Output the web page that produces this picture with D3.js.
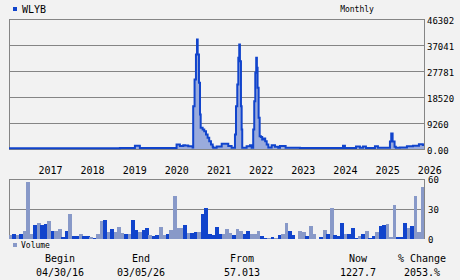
<!DOCTYPE html>
<html><head><meta charset="utf-8">
<script src="https://cdn.jsdelivr.net/npm/d3@7"></script>
<style>
html,body{margin:0;padding:0;background:#f2f2f2;}
svg{display:block;}
text{font-family:"DejaVu Sans Mono",monospace;fill:#000;}
</style></head>
<body>
<svg id="c" width="460" height="280"></svg>
<script>
const symbol = "WLYB";
const period = "Monthly";
const priceDates = ["2016-04-30","2017-07-15","2018-12-17","2019-04-26","2019-06-08","2020-04-21","2020-05-20","2020-06-18","2020-07-03","2020-07-31","2020-09-07","2020-09-12","2020-09-24","2020-10-06","2020-10-15","2020-10-21","2020-11-01","2020-11-10","2020-11-16","2020-12-03","2020-12-17","2021-01-01","2021-01-15","2021-01-29","2021-02-13","2021-02-28","2021-03-05","2021-04-03","2021-05-17","2021-07-13","2021-08-11","2021-09-09","2021-09-18","2021-09-29","2021-10-08","2021-10-16","2021-10-22","2021-10-31","2021-11-06","2021-11-11","2021-12-19","2022-01-17","2022-02-01","2022-02-14","2022-02-23","2022-03-04","2022-03-12","2022-03-18","2022-03-24","2022-04-02","2022-04-11","2022-04-22","2022-05-03","2022-05-18","2022-05-29","2022-06-11","2022-06-25","2022-07-24","2022-08-22","2022-09-19","2022-10-04","2022-11-22","2023-03-26","2024-04-02","2024-04-19","2024-07-24","2024-08-27","2024-09-22","2024-10-18","2025-01-04","2025-01-30","2025-05-14","2025-05-25","2025-06-06","2025-06-23","2025-07-04","2025-08-08","2025-10-08","2025-11-29","2026-01-20","2026-02-23","2026-03-05"];
const priceValues = [57,120,150,1000,200,1400,900,1200,1100,830,350,15070,24580,33480,38830,33480,23400,12110,7370,6770,6160,5000,3800,2600,1420,600,300,700,1700,900,300,4990,15070,22800,32300,37040,31100,15070,6770,300,800,1200,300,6770,16850,26960,32300,28750,21620,10930,4380,4100,3200,3600,2600,1420,400,1200,600,300,900,300,150,1000,200,700,300,700,200,800,250,2500,5300,2500,600,250,400,800,1000,1500,1227.7,1227.7];
const priceTicks = [0,9260,18520,27781,37041,46302];
const priceTickLabels = ["0.00","9260","18520","27781","37041","46302"];
const yearLabels = [2017,2018,2019,2020,2021,2022,2023,2024,2025,2026];
const volumes = [3.7,4.7,3.7,4.7,7.7,57,4.7,13.7,15.7,13.7,14.7,17.7,7.7,7.7,9.7,1.7,7.7,24.7,2.7,2.7,4.7,2.7,2.7,1.7,0.7,4.7,17.7,18.7,6.7,9.7,6.7,11.7,5.7,4.7,4.7,18.7,8.7,6.7,8.7,10.7,3.7,2.7,3.7,11.7,3.7,4.7,8.7,42.7,10.7,10.7,13.7,5.7,5.7,6.7,6.7,24.7,30.7,4.7,3.7,11.7,4.7,4.7,9.7,5.7,3.7,9.7,7.7,4.7,7.7,4.7,4.7,7.7,2.7,1,0.7,1.7,0.7,3.7,4.7,15.7,7.7,4.5,0.5,7.6,6.6,3.4,12.8,5.5,0.5,2.4,8.6,5.5,30.7,4.5,3.4,15.9,5.5,5.5,10.7,1.4,3.4,5.5,7.6,1.4,3.4,6.6,12.8,13.8,14.8,2.4,34.5,2.4,2.4,15.9,10.7,12.8,42.8,6.6,52];
const upMonths = [0,1,0,1,0,0,0,1,0,1,1,0,1,0,0,1,1,0,1,1,0,1,1,0,1,0,0,1,0,1,0,0,0,1,0,1,1,0,1,1,0,1,1,0,0,1,0,0,0,0,1,0,1,1,0,1,1,1,1,1,1,0,0,0,1,0,0,1,1,0,0,0,1,1,0,1,0,1,0,0,1,1,1,0,0,1,0,0,1,1,0,1,0,1,1,1,0,1,1,1,0,1,0,1,1,0,1,1,0,0,0,1,1,1,0,1,0,0,0];
const volTicks = [0,30,60];
const statHeads = ["Begin","End","From","Now","% Change"];
const statVals = ["04/30/16","03/05/26","57.013","1227.7","2053.%"];

const DARK = "#1144cc", LIGHT = "#8899c8", FILL = "#9aabdc", GRID = "#858585";
const svg = d3.select("#c");
const parse = d3.timeParse("%Y-%m-%d");
const L = 9, R = 424;

const x = d3.scaleTime().domain([parse("2016-04-30"), parse("2026-03-05")]).range([L, R]);
const y = d3.scaleLinear().domain([0, 46302]).range([149, 19]);

// main gridlines
svg.append("g").selectAll("line").data(priceTicks).join("line")
  .attr("x1", L).attr("x2", R).attr("y1", d => Math.round(y(d)) + 0.5).attr("y2", d => Math.round(y(d)) + 0.5)
  .attr("stroke", GRID).attr("stroke-width", 1);
svg.append("line").attr("x1", L + 0.5).attr("x2", L + 0.5).attr("y1", 19).attr("y2", 150).attr("stroke", GRID);
svg.append("line").attr("x1", R + 0.5).attr("x2", R + 0.5).attr("y1", 19).attr("y2", 150).attr("stroke", GRID);

const pts = priceDates.map((d, i) => ({ d: parse(d), v: priceValues[i] }));
svg.append("path").datum(pts)
  .attr("d", d3.area().x(p => x(p.d)).y0(y(0)).y1(p => y(p.v)).curve(d3.curveStepAfter))
  .attr("fill", FILL);
svg.append("path").datum(pts)
  .attr("d", d3.line().x(p => x(p.d)).y(p => y(p.v) - 0.5).curve(d3.curveStepAfter))
  .attr("fill", "none").attr("stroke", DARK).attr("stroke-width", 2);

// y labels main
svg.append("g").selectAll("text").data(priceTicks).join("text")
  .attr("x", 427).attr("y", d => y(d) + 5).attr("font-size", 9).text((d, i) => priceTickLabels[i]);

// year labels
svg.append("g").selectAll("text").data(yearLabels).join("text")
  .attr("x", d => x(new Date(d, 0, 1)) + 1).attr("y", 174).attr("font-size", 10).text(d => d);

// titles
svg.append("rect").attr("x", 13).attr("y", 7).attr("width", 4).attr("height", 4).attr("fill", DARK);
svg.append("text").attr("x", 22).attr("y", 13).attr("font-size", 10).text(symbol);
svg.append("text").attr("x", 357).attr("y", 12).attr("font-size", 8).attr("text-anchor", "middle").text(period);

// volume
const months = d3.timeMonth.range(new Date(2016, 4, 1), new Date(2026, 3, 1));
const xb = d3.scaleBand().domain(months.map((m, i) => i)).range([L, R]).padding(0);
const yv = d3.scaleLinear().domain([0, 60]).range([239, 179]);
svg.append("g").selectAll("line").data(volTicks.slice(1)).join("line")
  .attr("x1", L).attr("x2", R).attr("y1", d => Math.round(yv(d)) + 0.5).attr("y2", d => Math.round(yv(d)) + 0.5)
  .attr("stroke", GRID);
svg.append("line").attr("x1", L + 0.5).attr("x2", L + 0.5).attr("y1", 179).attr("y2", 239).attr("stroke", GRID);
svg.append("line").attr("x1", R + 0.5).attr("x2", R + 0.5).attr("y1", 179).attr("y2", 239).attr("stroke", GRID);
svg.append("g").attr("shape-rendering", "crispEdges").selectAll("rect").data(volumes).join("rect")
  .attr("x", (d, i) => xb(i)).attr("width", xb.bandwidth() + 0.3)
  .attr("y", d => yv(d)).attr("height", d => yv(0) - yv(d))
  .attr("fill", (d, i) => upMonths[i] ? DARK : LIGHT);
svg.append("g").selectAll("text").data(volTicks).join("text")
  .attr("x", 428).attr("y", d => yv(d) + 4).attr("font-size", 9).text(d => d);
svg.append("rect").attr("x", 13).attr("y", 243).attr("width", 4).attr("height", 4).attr("fill", LIGHT);
svg.append("text").attr("x", 21).attr("y", 248).attr("font-size", 8).text("Volume");

// stats
const statX = [60, 141, 242, 358, 422];
svg.append("g").selectAll("text").data(statHeads).join("text")
  .attr("x", (d, i) => statX[i]).attr("y", 262).attr("font-size", 10).attr("text-anchor", "middle").text(d => d);
svg.append("g").selectAll("text").data(statVals).join("text")
  .attr("x", (d, i) => statX[i]).attr("y", 276).attr("font-size", 10).attr("text-anchor", "middle").text(d => d);
</script>
</body></html>
